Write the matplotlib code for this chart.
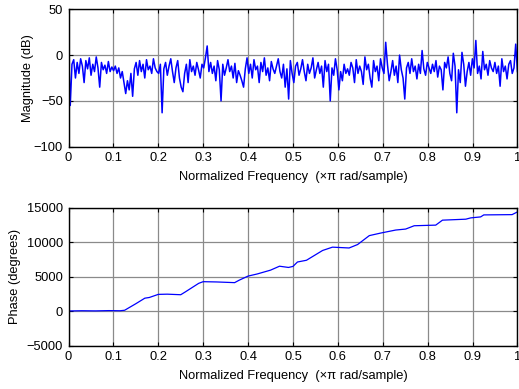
import numpy as np
import matplotlib.pyplot as plt

plt.rcParams['font.family'] = ['Liberation Sans', 'DejaVu Sans']
plt.rcParams['font.size'] = 9.3

# magnitude response (dB), evenly spaced over 0..1 (x pi rad/sample)
mag_db = [
    9, -55, -10, -5, -25, -8, -20, -4, -12, -30, -6, -15, -3, -22, -10, -18, -2, -14, -35, -8, -16, -11, -20, -7, -18, -13,
    -17, -12, -20, -14, -25, -18, -30, -42, -28, -38, -20, -45, -15, -8, -22, -6, -18, -10, -25, -5, -16, -12, -20, -4, -14, -18,
    -20, -10, -63, -15, -8, -22, -12, -4, -18, -30, -14, -6, -25, -35, -40, -20, -10, -30, -5, -18, -12, -22, -8, -16, -25, -10,
    -14, -3, 10, -18, -8, -20, -12, -28, -6, -16, -50, -10, -22, -14, -5, -18, -12, -25, -9, -30, -17, -22, -28, -35, -15, -3,
    -20, -10, -25, -5, -16, -12, -30, -8, -18, -3, -22, -14, -28, -7, -15, -20, -12, -4, -18, -25, -10, -35, -15, -48, -6, -20,
    -30, -12, -8, -22, -15, -5, -18, -28, -10, -20, -14, -3, -25, -16, -8, -20, -12, -35, -6, -18, -10, -50, -14, -22, -4, -16,
    -38, -18, -28, -10, -20, -15, -22, -8, -14, -30, -5, -20, -12, -18, -32, -2, -16, -10, -25, -35, -6, -18, -12, -28, -4, -14,
    -20, 14, -10, -28, -18, -6, -22, -12, -30, 0, -16, -25, -48, -14, -8, -20, -4, -18, -12, -26, -10, -20, 5, -15, -22, -8,
    -14, -20, -10, -18, -6, -24, -12, -16, -38, -8, -14, -2, -20, -28, 2, -12, -63, -16, -30, 3, -10, -34, -18, -8, -22, -4,
    -14, 16, -20, -12, -26, 4, -16, -10, -22, -6, -14, -18, -8, -20, -12, -34, -4, -18, -12, -26, -10, -6, -20, -14, 12, -18,
]
freq_mag = np.linspace(0, 1, len(mag_db))

# unwrapped phase (degrees)
freq_ph = [0.0, 0.03, 0.06, 0.09, 0.115, 0.125, 0.15, 0.17, 0.18, 0.2, 0.22, 0.25, 0.26, 0.29, 0.3,
           0.33, 0.37, 0.38, 0.4, 0.42, 0.45, 0.47, 0.49, 0.5, 0.51, 0.53, 0.566, 0.588, 0.625,
           0.644, 0.67, 0.696, 0.729, 0.751, 0.77, 0.818, 0.833, 0.885, 0.896, 0.918, 0.925,
           0.988, 1.0]
phase_deg = [50, 80, 60, 100, 80, 150, 1100, 1900, 2000, 2450, 2480, 2400, 2800, 4050, 4290,
             4250, 4150, 4500, 5100, 5400, 5960, 6530, 6350, 6500, 7140, 7390, 8810, 9290, 9170,
             9670, 10960, 11340, 11770, 11910, 12390, 12480, 13200, 13340, 13530, 13670, 13960,
             14000, 14390]

fig = plt.figure(figsize=(5.19, 3.89), dpi=100)
ax1 = fig.add_axes([0.132, 0.623, 0.865, 0.353])
ax2 = fig.add_axes([0.132, 0.111, 0.865, 0.355])

ax1.plot(freq_mag, mag_db, color='#0000ff', linewidth=1.1)
ax1.set_ylim(-100, 50)
ax1.set_yticks([-100, -50, 0, 50])
ax1.set_ylabel('Magnitude (dB)', labelpad=0)

ax2.plot(freq_ph, phase_deg, color='#0000ff', linewidth=0.9)
ax2.set_ylim(-5000, 15000)
ax2.set_yticks([-5000, 0, 5000, 10000, 15000])
ax2.set_ylabel('Phase (degrees)', labelpad=4)

for ax in (ax1, ax2):
    ax.set_xlim(0, 1)
    ax.set_xticks(np.arange(0, 1.01, 0.1))
    ax.set_xticklabels(['0', '0.1', '0.2', '0.3', '0.4', '0.5', '0.6', '0.7', '0.8', '0.9', '1'])
    ax.set_xlabel('Normalized Frequency  (\u00d7\u03c0 rad/sample)', labelpad=5)
    ax.grid(True, color='#8a8a8a', linewidth=0.9)
    ax.tick_params(direction='in', top=True, right=True, length=3, width=0.8, pad=4)
    for s in ax.spines.values():
        s.set_linewidth(1.0)
        s.set_color('black')

fig.savefig('out.png', dpi=100)
